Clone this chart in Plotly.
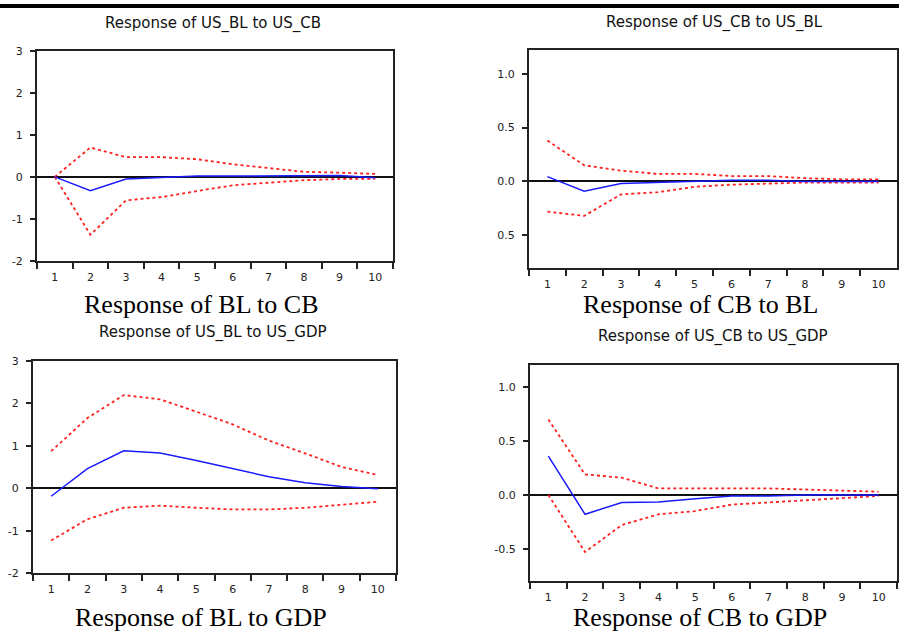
import plotly.graph_objects as go

W, H = 899, 640

periods = ["1", "2", "3", "4", "5", "6", "7", "8", "9", "10"]

# Response of US_BL to US_CB
bl_cb_resp = [0.0, -0.33, -0.05, -0.02, 0.02, 0.02, 0.02, 0.02, 0.03, -0.02]
bl_cb_up = [0.0, 0.70, 0.47, 0.47, 0.42, 0.30, 0.21, 0.12, 0.10, 0.07]
bl_cb_lo = [0.0, -1.38, -0.56, -0.48, -0.34, -0.20, -0.14, -0.08, -0.05, -0.05]

# Response of US_CB to US_BL
cb_bl_resp = [0.045, -0.09, -0.02, -0.01, 0.0, 0.01, 0.01, 0.0, 0.0, 0.0]
cb_bl_up = [0.38, 0.15, 0.10, 0.07, 0.07, 0.05, 0.05, 0.03, 0.02, 0.02]
cb_bl_lo = [-0.28, -0.32, -0.12, -0.10, -0.05, -0.03, -0.02, -0.01, -0.01, -0.01]

# Response of US_BL to US_GDP
bl_gdp_resp = [-0.19, 0.46, 0.88, 0.83, 0.65, 0.46, 0.27, 0.13, 0.04, -0.01]
bl_gdp_up = [0.87, 1.65, 2.19, 2.09, 1.80, 1.50, 1.12, 0.82, 0.50, 0.31]
bl_gdp_lo = [-1.23, -0.73, -0.46, -0.41, -0.46, -0.50, -0.50, -0.46, -0.39, -0.32]

# Response of US_CB to US_GDP
cb_gdp_resp = [0.36, -0.18, -0.07, -0.065, -0.035, -0.01, -0.01, 0.0, 0.0, 0.0]
cb_gdp_up = [0.70, 0.19, 0.16, 0.06, 0.06, 0.06, 0.06, 0.05, 0.04, 0.03]
cb_gdp_lo = [0.0, -0.53, -0.28, -0.18, -0.15, -0.09, -0.07, -0.05, -0.03, -0.01]

titles = ["Response of US_BL to US_CB", "Response of US_CB to US_BL",
          "Response of US_BL to US_GDP", "Response of US_CB to US_GDP"]
captions = ["Response of BL to CB", "Response of CB to BL",
            "Response of BL to GDP", "Response of CB to GDP"]

yt_big = [-2, -1, 0, 1, 2, 3]
yt_big_txt = ["-2", "-1", "0", "1", "2", "3"]
yt_small = [-0.5, 0.0, 0.5, 1.0]
yt_small_txt_tr = ["0.5", "0.0", "0.5", "1.0"]
yt_small_txt_br = ["-0.5", "0.0", "0.5", "1.0"]

panels = [
    dict(resp=bl_cb_resp, up=bl_cb_up, lo=bl_cb_lo, box=(37, 393, 46, 260),
         yr=[-2, 3], tv=yt_big, tt=yt_big_txt, tpos=(213, 18), cpos=(201, 305)),
    dict(resp=cb_bl_resp, up=cb_bl_up, lo=cb_bl_lo, box=(529, 897, 45, 267),
         yr=[-0.8, 1.22], tv=yt_small, tt=yt_small_txt_tr, tpos=(714, 17), cpos=(700, 305)),
    dict(resp=bl_gdp_resp, up=bl_gdp_up, lo=bl_gdp_lo, box=(33, 396, 362, 579),
         yr=[-2, 3], tv=yt_big, tt=yt_big_txt, tpos=(213, 333), cpos=(201, 624)),
    dict(resp=cb_gdp_resp, up=cb_gdp_up, lo=cb_gdp_lo, box=(530, 897, 366, 587),
         yr=[-0.8, 1.21], tv=yt_small, tt=yt_small_txt_br, tpos=(713, 337), cpos=(700, 624)),
]

fig = go.Figure()
layout = dict(width=W, height=H, margin=dict(l=0, r=0, t=0, b=0),
              paper_bgcolor="white", plot_bgcolor="white", showlegend=False)
annotations = []
shapes = []

for i, p in enumerate(panels):
    n = "" if i == 0 else str(i + 1)
    xa, ya = "x" + n, "y" + n
    x0, x1, y0, y1 = p["box"]
    for vals, col, dash in [(p["up"], "#ff2020", "dot"), (p["lo"], "#ff2020", "dot"),
                            (p["resp"], "#1a1aff", "solid")]:
        fig.add_trace(go.Scatter(x=periods, y=vals, mode="lines", xaxis=xa, yaxis=ya,
                                 line=dict(color=col, width=1.8 if dash == "dot" else 1.5, dash=dash)))
    axcommon = dict(showline=True, linecolor="#222", linewidth=2, mirror=True,
                    showgrid=False, ticks="outside", tickcolor="#222",
                    tickfont=dict(family="DejaVu Sans", size=11, color="#222"))
    layout["xaxis" + n] = dict(axcommon, domain=[x0 / W, x1 / W], anchor=ya,
                               type="category", range=[-0.5, 9.5], tickson="boundaries",
                               ticklen=6, tickwidth=2, zeroline=False, ticklabelstandoff=5)
    layout["yaxis" + n] = dict(axcommon, domain=[1 - y1 / H, 1 - y0 / H], anchor=xa,
                               range=p["yr"], tickvals=p["tv"], ticktext=p["tt"],
                               ticklen=5, tickwidth=2, zeroline=True, ticklabelstandoff=5,
                               zerolinecolor="#111", zerolinewidth=1.5)
    annotations.append(dict(text=titles[i], x=p["tpos"][0] / W, y=1 - p["tpos"][1] / H,
                            xref="paper", yref="paper", showarrow=False,
                            xanchor="center", yanchor="middle",
                            font=dict(family="DejaVu Sans", size=15, color="#111")))
    annotations.append(dict(text=captions[i], x=p["cpos"][0] / W, y=1 - p["cpos"][1] / H,
                            xref="paper", yref="paper", showarrow=False,
                            xanchor="center", yanchor="middle",
                            font=dict(family="Liberation Serif", size=26, color="black")))

shapes.append(dict(type="line", xref="paper", yref="paper", x0=0, x1=1, y0=1, y1=1,
                   line=dict(color="black", width=4)))
layout["annotations"] = annotations
layout["shapes"] = shapes
fig.update_layout(**layout)
fig.write_html("out.html")
